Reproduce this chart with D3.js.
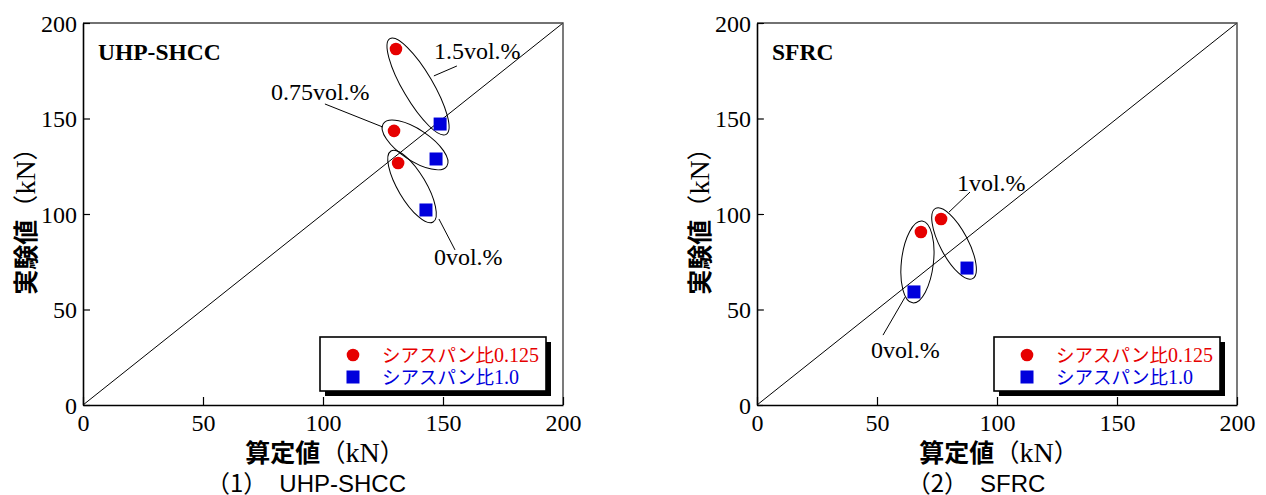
<!DOCTYPE html>
<html>
<head>
<meta charset="utf-8">
<script src="https://cdn.jsdelivr.net/npm/d3@7"></script>
<style>
  html, body { margin: 0; padding: 0; background: #fff; }
  svg { display: block; }
</style>
</head>
<body>
<svg id="chart" width="1266" height="495"></svg>
<script>
// ---------------- data ----------------
const axisTicks = [0, 50, 100, 150, 200];
const seriesNames = ["シアスパン比", "シアスパン比"];
const seriesSuffix = ["0.125", "1.0"];

// (1) UHP-SHCC : calculated (x) vs experimental (y)
const uhpGroups = ["1.5vol.%", "0.75vol.%", "0vol.%"];
const uhpCalcA = [130.4, 129.6, 131.3];   // shear span ratio 0.125
const uhpExpA  = [186.4, 143.5, 126.7];
const uhpCalcB = [148.8, 147.1, 142.9];   // shear span ratio 1.0
const uhpExpB  = [147.1, 128.8, 102.1];

// (2) SFRC
const sfrcGroups = ["0vol.%", "1vol.%"];
const sfrcCalcA = [68.3, 76.7];
const sfrcExpA  = [90.6, 97.4];
const sfrcCalcB = [65.4, 87.5];
const sfrcExpB  = [59.2, 71.7];

// ---------------- layout ----------------
const RED = "#e60000", BLUE = "#0000dc";
const serif = "'Liberation Serif','Times New Roman',serif";
const cjk = "'Noto Sans CJK JP','Noto Sans CJK SC',sans-serif";
const sans = "'Liberation Sans',Arial,'Noto Sans CJK JP',sans-serif";

const panels = [
  {
    left: 83, title: "UHP-SHCC", caption: ["（1）", "　UHP-SHCC"], capDx: -17,
    groups: uhpGroups, cA: uhpCalcA, eA: uhpExpA, cB: uhpCalcB, eB: uhpExpB,
    ann: [
      {pad: 12, minor: 15, tx: 146.2, ty: 181.2, l: [[146.2, 172.3], [155.8, 177.5]]},
      {pad: 13, minor: 15.5, tx: 78.3, ty: 159.7, l: [[100.8, 157.6], [125.0, 145.5]]},
      {pad: 14, minor: 14, tx: 146.2, ty: 73.3, l: [[148.3, 97.4], [155.0, 81.2]]}
    ]
  },
  {
    left: 757, title: "SFRC", caption: ["（2）", "　SFRC"], capDx: -21,
    groups: sfrcGroups, cA: sfrcCalcA, eA: sfrcExpA, cB: sfrcCalcB, eB: sfrcExpB,
    ann: [
      {pad: 11, minor: 16, tx: 47.5, ty: 24.6, l: [[61.7, 56.5], [52.5, 36.6]]},
      {pad: 12, minor: 14, tx: 83.3, ty: 112.0, l: [[80.0, 101.0], [88.75, 111.5]]}
    ]
  }
];

const W = 480, plotTop = 23, plotBottom = 405;
const svg = d3.select("#chart");

function axisTitle(sel, jp) {
  sel.append("tspan").style("font-family", cjk).style("font-weight", "bold").style("font-size", "25px").text(jp);
  sel.append("tspan").style("font-family", cjk).style("font-size", "25px").text("（");
  sel.append("tspan").style("font-family", serif).style("font-size", "28px").text("kN");
  sel.append("tspan").style("font-family", cjk).style("font-size", "25px").text("）");
}

panels.forEach(p => {
  const x = d3.scaleLinear().domain([0, 200]).range([p.left, p.left + W]);
  const y = d3.scaleLinear().domain([0, 200]).range([plotBottom, plotTop]);
  const g = svg.append("g");

  g.append("line")
    .attr("x1", x(0)).attr("y1", y(0)).attr("x2", x(200)).attr("y2", y(200))
    .attr("stroke", "#000").attr("stroke-width", 1);

  g.append("path")
    .attr("d", `M${x(0)},${y(200)}H${x(200)}V${y(0)}`)
    .attr("fill", "none").attr("stroke", "#444").attr("stroke-width", 1.4);

  const xa = g.append("g").attr("transform", `translate(0,${plotBottom})`)
    .call(d3.axisBottom(x).tickValues(axisTicks).tickSize(-8).tickPadding(11).tickSizeOuter(0));
  const ya = g.append("g").attr("transform", `translate(${p.left},0)`)
    .call(d3.axisLeft(y).tickValues(axisTicks).tickSize(-7).tickPadding(6).tickSizeOuter(0));
  [xa, ya].forEach(a => {
    a.select(".domain").attr("stroke", "#000").attr("stroke-width", 1.6);
    a.selectAll(".tick line").attr("stroke", "#000").attr("stroke-width", 1.2);
    a.selectAll(".tick text").attr("fill", "#000").style("font-family", serif).style("font-size", "24px");
  });
  xa.selectAll(".tick text").attr("dy", "0.62em");
  ya.selectAll(".tick text").attr("dy", "0.34em");

  g.append("text").attr("x", p.left + 15).attr("y", plotTop + 37)
    .style("font-family", serif).style("font-size", "23.5px").style("font-weight", "bold")
    .text(p.title);

  p.groups.forEach((name, i) => {
    const a = p.ann[i];
    const ax = x(p.cA[i]), ay = y(p.eA[i]), bx = x(p.cB[i]), by = y(p.eB[i]);
    const cx = (ax + bx) / 2, cy = (ay + by) / 2;
    const ang = Math.atan2(by - ay, bx - ax) * 180 / Math.PI;
    const half = Math.hypot(bx - ax, by - ay) / 2;
    g.append("ellipse")
      .attr("transform", `translate(${cx},${cy}) rotate(${ang})`)
      .attr("rx", half + a.pad).attr("ry", a.minor)
      .attr("fill", "none").attr("stroke", "#000").attr("stroke-width", 1);
    g.append("line")
      .attr("x1", x(a.l[0][0])).attr("y1", y(a.l[0][1]))
      .attr("x2", x(a.l[1][0])).attr("y2", y(a.l[1][1]))
      .attr("stroke", "#000").attr("stroke-width", 1);
    g.append("text").attr("x", x(a.tx)).attr("y", y(a.ty))
      .style("font-family", serif).style("font-size", "24px")
      .text(name);
  });

  g.selectAll("circle.a").data(p.cA.map((c, i) => [c, p.eA[i]])).join("circle")
    .attr("cx", d => x(d[0])).attr("cy", d => y(d[1])).attr("r", 6.3).attr("fill", RED);
  g.selectAll("rect.b").data(p.cB.map((c, i) => [c, p.eB[i]])).join("rect")
    .attr("x", d => x(d[0]) - 6.5).attr("y", d => y(d[1]) - 6.5)
    .attr("width", 13).attr("height", 13).attr("fill", BLUE);

  const lx = x(200) - 243, ly = plotBottom - 68, lw = 226, lh = 54;
  g.append("rect").attr("x", lx + 5).attr("y", ly + 5).attr("width", lw).attr("height", lh).attr("fill", "#000");
  g.append("rect").attr("x", lx).attr("y", ly).attr("width", lw).attr("height", lh)
    .attr("fill", "#fff").attr("stroke", "#000").attr("stroke-width", 1.6);
  [RED, BLUE].forEach((col, k) => {
    const ry = ly + 18 + k * 22;
    if (k === 0) g.append("circle").attr("cx", lx + 33).attr("cy", ry).attr("r", 6.3).attr("fill", col);
    else g.append("rect").attr("x", lx + 26.5).attr("y", ry - 6.5).attr("width", 13).attr("height", 13).attr("fill", col);
    const t = g.append("text").attr("x", lx + 62).attr("y", ry + 7).attr("fill", col);
    t.append("tspan").style("font-family", cjk).style("font-size", "18.5px").text(seriesNames[k]);
    t.append("tspan").style("font-family", serif).style("font-size", "20px").text(seriesSuffix[k]);
  });

  const xt = g.append("text").attr("x", p.left + W / 2 + 2).attr("y", 462)
    .attr("text-anchor", "middle");
  axisTitle(xt, "算定値");

  const yt = g.append("text")
    .attr("transform", `translate(${p.left - 48},${(plotTop + plotBottom) / 2 + 1}) rotate(-90)`)
    .attr("text-anchor", "middle");
  axisTitle(yt, "実験値");

  const ct = g.append("text").attr("x", p.left + W / 2 + p.capDx).attr("y", 492)
    .attr("text-anchor", "middle").style("font-size", "24px").style("font-family", sans);
  ct.append("tspan").style("font-family", cjk).text(p.caption[0]);
  ct.append("tspan").text(p.caption[1]);
});
</script>
</body>
</html>
